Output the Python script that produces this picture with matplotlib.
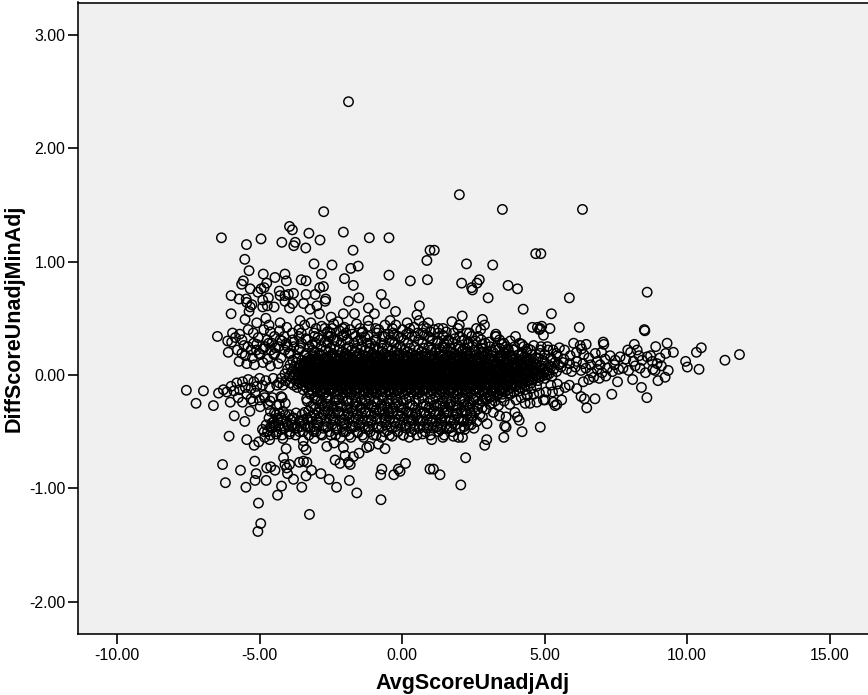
import matplotlib
matplotlib.use("Agg")
import matplotlib.pyplot as plt

plt.rcParams['font.family'] = ['Liberation Sans', 'DejaVu Sans']

x_ticks = [-10, -5, 0, 5, 10, 15]
y_ticks = [-2, -1, 0, 1, 2, 3]
x_name = "AvgScoreUnadjAdj"
y_name = "DiffScoreUnadjMinAdj"

# values, region by region
upper_left = [(-1.88,2.41),(-2.75,1.44),(-3.95,1.31),(-3.85,1.28),(-3.27,1.25),(-2.06,1.26),(-6.34,1.21),(-4.95,1.20),
(-5.46,1.15),(-4.22,1.17),(-3.75,1.17),(-3.80,1.14),(-2.88,1.19),(-3.38,1.12),(-1.15,1.21),(-0.46,1.21),(-1.72,1.10),
(-5.52,1.02),(-3.09,0.98),(-2.46,0.97),(-1.54,0.96),(-1.80,0.94),(0.87,1.01),(0.98,1.10),(-5.37,0.92),(-4.87,0.89),
(-2.83,0.89),(-4.11,0.89),(-4.46,0.86),(-5.57,0.83),(-5.63,0.80),(-4.06,0.83),(-3.54,0.84),(-3.37,0.83),(-2.02,0.85),
(-0.46,0.88),(0.29,0.83),(0.89,0.84),(-4.75,0.81),(-4.84,0.77),(-5.33,0.76),(-4.95,0.76),(-5.06,0.73),(-2.76,0.78),
(-2.89,0.77),(-1.71,0.79),(-4.31,0.74),(-4.28,0.70),(-6.00,0.70),(-5.72,0.67),(-3.99,0.71),(-3.81,0.72),(-4.11,0.70),
(-3.37,0.71),(-3.05,0.71),(-1.52,0.68),(-0.73,0.71),(-1.88,0.65),(-0.60,0.63),(-2.68,0.67),(-2.70,0.65),(-5.47,0.67),
(-5.45,0.64),(-4.69,0.68),(-4.89,0.66),(-4.11,0.65),(-3.84,0.63),(-3.46,0.63),(-5.27,0.62),(-5.33,0.60),(-4.73,0.61),
(-4.49,0.60),(-4.89,0.60),(-3.95,0.59),(-2.99,0.61),(-3.23,0.58),(-1.18,0.59),(0.61,0.61),(-0.23,0.56),(-0.97,0.54),
(0.52,0.53),(-6.00,0.54),(-5.37,0.56),(-2.90,0.54),(-1.67,0.54),(-2.06,0.54),(-5.51,0.49),(-4.78,0.50),(-3.58,0.48),
(-5.10,0.46),(-4.28,0.46),(-4.67,0.44),(-1.19,0.48),(-1.18,0.43),(-2.49,0.51),(-2.25,0.47),(-2.40,0.45),(-6.48,0.34),
(-5.95,0.37),(-5.85,0.33),(-5.70,0.36),(-5.62,0.31),(-6.12,0.30),(-5.98,0.29),(-5.40,0.40),(-5.22,0.37),(-5.05,0.33),
(-4.85,0.40),(-4.62,0.38),(-4.48,0.34),(-4.30,0.39),(-4.05,0.42),(-3.85,0.37),(-3.62,0.40),(-3.42,0.44),(-3.20,0.46),
(-3.02,0.41),(-2.82,0.43),(-2.62,0.38),(-2.45,0.41),(-2.20,0.39),(-2.02,0.42),(-1.82,0.40),(-1.60,0.45),(-1.38,0.38),
(-1.75,0.36),(-0.82,0.40),(-0.60,0.44),(-0.42,0.48),(-0.22,0.44),(0.02,0.40),(0.18,0.46),(0.42,0.42),(0.60,0.48),
(0.75,0.43),(0.92,0.46),(1.00,0.38),(1.12,0.40),(-5.78,0.22),(-5.55,0.26),(-5.30,0.22),(-5.10,0.27),(-4.88,0.23),
(-4.68,0.28),(-4.45,0.24),(-4.22,0.30),(-4.02,0.25),(-3.80,0.29),(-3.58,0.24),(-3.38,0.32),(-3.15,0.27),(-2.95,0.33),
(-2.72,0.29),(-2.50,0.34),(-2.28,0.30),(-2.05,0.35),(-5.50,0.17),(-5.25,0.15),(-4.98,0.18),(-4.72,0.14),(-4.50,0.18),
(-4.25,0.15),(-3.98,0.19),(-5.72,0.12),(-5.45,0.10),(-5.18,0.09),(-4.88,0.11),(-4.62,0.08),(-4.35,0.10),(-6.10,0.20),
(-0.95,0.31),(-1.30,0.33),(-0.70,0.34),(-0.48,0.36),(-0.28,0.35),(-0.05,0.33),(0.15,0.36),(0.35,0.34),(0.55,0.37),
(0.78,0.35),(0.98,0.32),(-1.55,0.30),(-1.10,0.28),(-0.35,0.29)]

upper_right = [(2.01,1.59),(3.52,1.46),(6.33,1.46),(4.69,1.07),(4.87,1.07),(1.13,1.10),(2.26,0.98),(3.18,0.97),(2.09,0.81),
(2.71,0.84),(2.63,0.81),(2.44,0.77),(2.47,0.75),(3.72,0.79),(4.05,0.76),(8.60,0.73),(3.02,0.68),(5.87,0.68),(4.25,0.58),
(5.24,0.54),(2.11,0.52),(1.75,0.47),(2.01,0.44),(2.82,0.49),(2.89,0.44),(2.76,0.40),(3.29,0.36),(3.27,0.34),(4.57,0.42),
(4.75,0.42),(4.90,0.43),(4.82,0.40),(4.85,0.41),(5.19,0.41),(6.22,0.42),(8.52,0.39),(3.98,0.34),(3.80,0.30),(4.96,0.35),
(1.43,0.35),(2.27,0.37),(2.44,0.34),(1.55,0.38),(1.28,0.41),(2.10,0.30),(1.85,0.32),(1.65,0.30),(1.48,0.28),(1.25,0.30),
(2.35,0.28),(2.58,0.30),(2.82,0.27),(3.05,0.29),(3.28,0.24),(3.50,0.27),(3.72,0.23),(3.95,0.25),(4.20,0.27),(4.42,0.23),
(4.62,0.26),(4.85,0.22),(5.10,0.25),(5.30,0.22),(5.52,0.24),(5.70,0.22),(1.20,0.22),(1.50,0.24),(1.75,0.20),(2.00,0.23),
(2.25,0.19),(2.55,0.22),(2.78,0.20),(3.00,0.18),(3.20,0.20),(3.45,0.17),(3.65,0.19),(3.85,0.16),(4.10,0.18),(4.30,0.16),
(4.55,0.18),(4.78,0.15),(5.00,0.18),(5.22,0.15),(5.45,0.17),(5.68,0.14),(5.90,0.17),(6.02,0.28),(6.25,0.26),(6.46,0.27),
(6.30,0.23),(6.12,0.20),(6.38,0.18),(6.55,0.15),(6.78,0.19),(7.06,0.29),(7.00,0.20),(7.08,0.27),(6.85,0.12),(7.12,0.14),
(7.30,0.17),(7.48,0.13),(7.65,0.16),(7.85,0.14),(8.15,0.27),(8.02,0.20),(7.92,0.22),(8.25,0.22),(8.32,0.17),(8.50,0.40),
(8.12,0.12),(8.42,0.13),(8.60,0.16),(8.78,0.12),(8.90,0.25),(8.72,0.17),(9.30,0.28),(9.52,0.20),(9.25,0.19),(9.05,0.15),
(8.95,0.10),(9.10,0.08),(9.95,0.12),(10.01,0.07),(10.42,0.05),(10.50,0.24),(10.33,0.20),(11.33,0.13),(11.84,0.18),(9.34,0.04),
(9.23,-0.02),(8.98,-0.05),(8.54,0.02),(8.09,-0.04),(8.80,0.05),(8.88,0.04),(8.35,0.06),(8.18,0.08),(7.95,0.04),(7.75,0.06),
(7.56,-0.06),(7.60,0.05),(7.38,0.03),(7.20,0.06),(7.02,0.02),(6.85,0.05),(6.65,0.02),(6.45,0.06),(6.28,0.04),(6.08,0.07),
(7.45,0.09),(7.15,-0.01),(6.92,-0.03),(6.72,-0.02),(6.55,-0.04),(6.95,0.09),(6.62,0.09),(6.35,0.10),(6.12,0.12),(5.88,0.10),
(5.95,0.03),(5.78,0.05)]

lower_left = [(-7.57,-0.135),(-6.97,-0.14),(-7.23,-0.25),(-6.62,-0.27),(-6.44,-0.16),(-6.27,-0.13),(-6.15,-0.15),(-6.03,-0.24),
(-5.89,-0.36),(-5.52,-0.41),(-5.34,-0.32),(-4.98,-0.28),(-6.07,-0.54),(-5.45,-0.57),(-5.19,-0.62),(-5.03,-0.59),(-5.17,-0.76),
(-6.30,-0.79),(-5.67,-0.84),(-5.12,-0.87),(-5.16,-0.93),(-4.77,-0.93),(-6.20,-0.95),(-5.48,-0.99),(-4.23,-0.98),(-4.37,-1.06),
(-3.52,-0.99),(-5.04,-1.13),(-3.25,-1.23),(-4.96,-1.31),(-5.06,-1.38),(-4.75,-0.82),(-4.61,-0.81),(-4.46,-0.84),(-4.07,-0.65),
(-4.16,-0.73),(-4.11,-0.79),(-4.05,-0.82),(-3.95,-0.79),(-3.60,-0.77),(-3.46,-0.76),(-3.34,-0.77),(-4.02,-0.87),(-3.81,-0.92),
(-3.37,-0.89),(-3.18,-0.84),(-2.85,-0.87),(-2.56,-0.92),(-2.30,-0.99),(-1.85,-0.93),(-1.59,-1.04),(-0.74,-1.10),(-0.75,-0.88),
(-0.71,-0.83),(-0.29,-0.88),(-0.13,-0.83),(-0.07,-0.85),(0.12,-0.78),(0.98,-0.83),(-3.47,-0.58),(-3.46,-0.63),(-3.37,-0.66),
(-3.08,-0.56),(-2.64,-0.63),(-2.39,-0.60),(-2.06,-0.64),(-2.35,-0.75),(-2.18,-0.78),(-2.00,-0.71),(-1.88,-0.77),(-1.82,-0.79),
(-1.71,-0.72),(-1.51,-0.69),(-1.24,-0.64),(-1.15,-0.63),(-0.83,-0.61),(-0.60,-0.65),(-4.72,-0.50),(-4.62,-0.46),(-4.55,-0.42),
(-4.42,-0.52),(-4.35,-0.38),(-4.25,-0.48),(-4.18,-0.56),(-4.10,-0.35),(-4.02,-0.44),(-3.95,-0.52),(-3.85,-0.38),(-3.78,-0.47),
(-3.60,-0.50),(-3.52,-0.41),(-3.42,-0.33),(-3.30,-0.46),(-3.20,-0.37),(-3.10,-0.50),(-4.90,-0.48),(-4.82,-0.55),
(-4.65,-0.57),(-4.50,-0.44),(-4.30,-0.34),(-3.05,-0.30),(-2.95,-0.42),(-2.85,-0.52),(-2.78,-0.35),
(-2.68,-0.46),(-2.60,-0.31),(-2.50,-0.53),(-2.42,-0.40),(-2.32,-0.48),(-2.25,-0.33),(-2.15,-0.55),(-2.05,-0.43),(-1.98,-0.50),
(-1.88,-0.35),(-1.80,-0.55),(-1.72,-0.45),(-1.62,-0.38),(-1.55,-0.51),(-1.45,-0.42),(-1.35,-0.55),(-1.28,-0.33),(-1.18,-0.48),
(-1.08,-0.40),(-1.00,-0.53),(-0.92,-0.31),(-0.82,-0.46),(-0.72,-0.55),(-0.62,-0.38),(-0.52,-0.49),(-0.45,-0.33),(-0.35,-0.54),
(-0.25,-0.42),(-0.15,-0.50),(-0.05,-0.36),(0.05,-0.53),(0.15,-0.44),(0.25,-0.55),(-5.75,-0.20),(-5.60,-0.24),(-5.45,-0.17),
(-5.30,-0.21),(-5.15,-0.16),(-5.00,-0.22),(-4.85,-0.18),(-4.70,-0.26),(-4.55,-0.20),(-4.40,-0.27),(-4.25,-0.19),(-4.10,-0.25),
(-3.35,-0.21),(-3.20,-0.28),(-3.00,-0.22),(-2.82,-0.26),(-2.65,-0.21),
(-2.48,-0.27),(-2.30,-0.22),(-2.12,-0.28),(-1.95,-0.23),(-1.78,-0.29),(-1.60,-0.24),(-1.42,-0.29),(-1.25,-0.23),(-1.05,-0.28),
(-0.88,-0.24),(-0.70,-0.30),(-0.52,-0.25),(-0.32,-0.29),(-0.15,-0.24),(0.05,-0.29),(0.22,-0.33),(0.35,-0.27),(0.32,-0.40),
(0.42,-0.48),(0.50,-0.35),(-6.00,-0.10),(-5.90,-0.14),(-5.80,-0.07),(-5.70,-0.13),(-5.60,-0.06),(-5.50,-0.11),(-5.40,-0.04),
(-5.30,-0.12),(-5.20,-0.06),(-5.10,-0.10),(-5.00,-0.03),(-4.90,-0.09),(-4.78,-0.05),(-4.65,-0.11),(-4.52,-0.03),(-4.40,-0.09)]

lower_right = [(7.36,-0.17),(8.59,-0.20),(8.40,-0.11),(6.48,-0.29),(6.77,-0.21),(6.40,-0.21),(6.28,-0.19),(6.13,-0.12),(5.43,-0.26),
(5.60,-0.22),(5.31,-0.24),(5.02,-0.22),(4.73,-0.24),(4.49,-0.25),(4.32,-0.25),(5.37,-0.27),(4.96,-0.22),(4.85,-0.46),(4.21,-0.50),
(3.65,-0.37),(3.96,-0.33),(4.05,-0.37),(4.11,-0.40),(3.65,-0.46),(3.60,-0.45),(3.57,-0.55),(2.97,-0.57),(2.90,-0.62),(2.23,-0.73),
(1.10,-0.83),(1.33,-0.88),(2.06,-0.97),(1.43,-0.55),(1.04,-0.57),(1.80,-0.54),(1.98,-0.55),(2.12,-0.55),(1.65,-0.47),(2.05,-0.47),
(2.20,-0.48),(1.22,-0.46),(1.35,-0.48),(2.42,-0.44),(2.98,-0.43),(2.82,-0.37),(3.20,-0.33),(3.42,-0.36),(0.72,-0.52),(0.88,-0.47),
(1.05,-0.42),(1.18,-0.35),(1.38,-0.38),(1.55,-0.33),(1.72,-0.40),(1.90,-0.34),(2.08,-0.39),(2.25,-0.32),(2.45,-0.36),(2.65,-0.30),
(2.95,-0.30),(3.15,-0.25),(3.38,-0.27),(3.58,-0.23),(3.78,-0.26),(4.00,-0.22),(4.18,-0.20),(4.40,-0.18),(4.62,-0.17),(4.82,-0.16),
(5.05,-0.15),(5.28,-0.15),(5.50,-0.14),(5.72,-0.11),(5.87,-0.09),(6.36,-0.06),(5.45,-0.08),(5.22,-0.09),(0.62,-0.40),(0.78,-0.33),
(0.95,-0.29),(1.12,-0.27),(1.32,-0.25),(1.52,-0.28),(1.72,-0.24),(1.92,-0.27),(2.12,-0.23),(2.32,-0.26),(2.52,-0.22),(2.72,-0.25),
(2.92,-0.20),(3.12,-0.19),(3.32,-0.18),(3.52,-0.17),(3.72,-0.16),(3.92,-0.15),(4.12,-0.14),(4.32,-0.13),(4.52,-0.12),(4.72,-0.10)]

# the solid middle cannot be read point by point, so it is estimated as rows: (y, x values)
core_rows = [
(0.17,[-3.42,-3.11,-2.86,-2.47,-2.19,-1.93,-1.58,-1.31,-1.07,-0.74,-0.43,-0.18,0.16,0.47,0.71,1.04,1.33,1.66,1.91,2.27,2.58,2.83,3.16,3.52,3.81,4.17]),
(0.15,[-3.65,-3.28,-2.97,-2.71,-2.33,-2.04,-1.76,-1.44,-1.17,-0.86,-0.57,-0.26,0.03,0.34,0.62,0.93,1.21,1.52,1.84,2.12,2.41,2.74,3.03,3.37,3.68,3.99,4.36,4.71]),
(0.13,[-3.84,-3.51,-3.19,-2.92,-2.56,-2.27,-1.98,-1.69,-1.36,-1.09,-0.78,-0.49,-0.14,0.11,0.42,0.77,1.06,1.39,1.67,1.97,2.31,2.62,2.91,3.24,3.57,3.86,4.21,4.52,4.93,5.27]),
(0.11,[-3.71,-3.38,-3.04,-2.77,-2.41,-2.13,-1.81,-1.52,-1.23,-0.94,-0.61,-0.33,-0.02,0.27,0.56,0.88,1.17,1.46,1.76,2.08,2.36,2.69,2.98,3.31,3.63,3.92,4.27,4.61,4.98,5.36,5.64]),
(0.09,[-3.93,-3.57,-3.26,-2.94,-2.62,-2.31,-2.02,-1.73,-1.41,-1.12,-0.83,-0.52,-0.21,0.08,0.39,0.66,0.99,1.28,1.59,1.89,2.18,2.49,2.81,3.11,3.44,3.74,4.07,4.39,4.72,5.13,5.49]),
(0.07,[-3.78,-3.46,-3.13,-2.83,-2.52,-2.23,-1.91,-1.61,-1.33,-1.01,-0.72,-0.41,-0.11,0.18,0.49,0.79,1.09,1.37,1.71,1.99,2.29,2.58,2.89,3.21,3.53,3.83,4.14,4.46,4.83,5.22,5.58]),
(0.05,[-4.02,-3.66,-3.35,-3.02,-2.72,-2.42,-2.11,-1.82,-1.49,-1.21,-0.91,-0.59,-0.31,0.01,0.29,0.59,0.91,1.19,1.49,1.81,2.09,2.39,2.71,3.02,3.33,3.62,3.96,4.26,4.58,4.96,5.32]),
(0.03,[-3.87,-3.53,-3.22,-2.91,-2.61,-2.32,-1.99,-1.71,-1.39,-1.11,-0.81,-0.49,-0.22,0.11,0.38,0.69,1.01,1.29,1.61,1.88,2.21,2.49,2.79,3.12,3.41,3.73,4.04,4.36,4.68,5.07,5.42]),
(0.01,[-4.11,-3.74,-3.42,-3.11,-2.81,-2.51,-2.21,-1.89,-1.62,-1.29,-1.02,-0.69,-0.41,-0.12,0.19,0.48,0.81,1.08,1.41,1.69,1.99,2.31,2.59,2.92,3.21,3.52,3.84,4.16,4.47,4.84,5.16]),
(-0.01,[-3.96,-3.62,-3.31,-3.01,-2.69,-2.41,-2.09,-1.79,-1.51,-1.19,-0.89,-0.61,-0.29,-0.01,0.31,0.58,0.89,1.21,1.48,1.79,2.11,2.41,2.68,3.01,3.32,3.63,3.93,4.24,4.57,4.91,5.26]),
(-0.03,[-4.24,-3.84,-3.51,-3.19,-2.89,-2.59,-2.29,-1.99,-1.68,-1.39,-1.08,-0.79,-0.49,-0.19,0.09,0.41,0.68,0.99,1.31,1.59,1.88,2.19,2.51,2.79,3.11,3.42,3.71,4.03,4.34,4.66,5.02]),
(-0.05,[-4.08,-3.71,-3.38,-3.09,-2.78,-2.49,-2.18,-1.88,-1.59,-1.28,-0.98,-0.68,-0.39,-0.08,0.21,0.51,0.79,1.11,1.39,1.71,1.98,2.29,2.61,2.88,3.21,3.49,3.81,4.12,4.42,4.77]),
(-0.07,[-4.31,-3.93,-3.59,-3.28,-2.97,-2.68,-2.38,-2.08,-1.78,-1.47,-1.18,-0.88,-0.58,-0.28,0.01,0.31,0.61,0.89,1.21,1.49,1.81,2.09,2.39,2.69,2.99,3.29,3.61,3.91,4.23,4.54]),
(-0.09,[-4.18,-3.81,-3.47,-3.16,-2.87,-2.57,-2.27,-1.97,-1.67,-1.37,-1.07,-0.77,-0.47,-0.17,0.13,0.41,0.72,1.01,1.31,1.61,1.91,2.19,2.51,2.79,3.09,3.41,3.71,4.01,4.31]),
(-0.11,[-3.68,-3.36,-3.06,-2.76,-2.46,-2.16,-1.86,-1.56,-1.26,-0.96,-0.66,-0.36,-0.06,0.23,0.53,0.82,1.12,1.42,1.72,2.01,2.31,2.62,2.91,3.22,3.52,3.82,4.12]),
(-0.13,[-3.47,-3.17,-2.87,-2.57,-2.27,-1.97,-1.67,-1.37,-1.07,-0.77,-0.47,-0.17,0.12,0.42,0.72,1.02,1.32,1.62,1.92,2.22,2.52,2.82,3.12,3.42,3.72]),
(-0.15,[-3.27,-2.98,-2.68,-2.38,-2.08,-1.78,-1.48,-1.18,-0.88,-0.58,-0.28,0.02,0.31,0.61,0.91,1.21,1.51,1.81,2.11,2.41,2.71,3.01,3.31,3.61]),
]

# second pass over the same area, at the rows in between
core_rows_b = [
(0.16,[-3.06,-2.64,-2.52,-2.08,-1.83,-1.62,-1.24,-0.97,-0.91,-0.51,-0.39,0.07,0.21,0.58,0.84,0.98,1.42,1.58,2.03,2.22,2.69,2.96,3.42]),
(0.14,[-3.21,-3.03,-2.58,-2.38,-2.16,-1.72,-1.49,-1.02,-0.82,-0.68,-0.23,-0.07,0.38,0.51,0.97,1.13,1.47,1.78,2.17,2.33,2.79,3.09,3.46,3.92]),
(0.12,[-3.33,-2.88,-2.69,-2.22,-2.07,-1.64,-1.28,-1.16,-0.67,-0.44,-0.29,0.19,0.33,0.69,0.84,1.26,1.55,1.83,2.23,2.47,2.77,3.14,3.44,3.77,4.08,4.44]),
(0.10,[-3.46,-3.16,-2.68,-2.49,-2.09,-1.88,-1.47,-1.29,-0.89,-0.69,-0.26,-0.09,0.32,0.43,0.91,1.12,1.53,1.69,2.14,2.27,2.73,2.91,3.37,3.55,4.01,4.33,4.67]),
(0.08,[-3.31,-3.08,-2.71,-2.44,-2.16,-1.79,-1.56,-1.17,-0.96,-0.63,-0.34,-0.03,0.24,0.53,0.72,1.16,1.32,1.77,1.93,2.36,2.63,2.95,3.28,3.48,3.91,4.21,4.54,4.89]),
(0.06,[-3.58,-3.24,-2.89,-2.64,-2.29,-1.97,-1.68,-1.39,-1.06,-0.77,-0.47,-0.17,0.13,0.36,0.73,0.97,1.27,1.57,1.86,2.16,2.46,2.77,3.07,3.39,3.68,4.01,4.31,4.64]),
(0.04,[-3.42,-3.13,-2.79,-2.54,-2.17,-1.87,-1.57,-1.27,-0.99,-0.66,-0.37,-0.08,0.23,0.51,0.83,1.12,1.38,1.73,2.03,2.33,2.63,2.93,3.23,3.53,3.79,4.11,4.42,4.73,5.12]),
(0.02,[-3.63,-3.28,-2.97,-2.66,-2.37,-2.06,-1.76,-1.46,-1.17,-0.86,-0.56,-0.26,0.03,0.33,0.63,0.94,1.23,1.53,1.83,2.13,2.43,2.73,3.03,3.33,3.67,3.98,4.28,4.61,4.98]),
(0.00,[-3.81,-3.47,-3.16,-2.86,-2.56,-2.26,-1.94,-1.66,-1.34,-1.04,-0.76,-0.44,-0.16,0.14,0.43,0.74,1.03,1.34,1.63,1.93,2.24,2.54,2.84,3.14,3.46,3.77,4.07,4.39,4.72,5.08]),
(-0.02,[-3.41,-3.09,-2.79,-2.47,-2.17,-1.86,-1.57,-1.26,-0.96,-0.67,-0.36,-0.07,0.23,0.52,0.83,1.13,1.42,1.73,2.04,2.33,2.63,2.94,3.24,3.54,3.86,4.17,4.49,4.82]),
(-0.04,[-3.62,-3.27,-2.97,-2.67,-2.37,-2.07,-1.77,-1.47,-1.16,-0.86,-0.57,-0.27,0.03,0.33,0.62,0.93,1.23,1.52,1.83,2.13,2.42,2.73,3.04,3.33,3.64,3.96,4.27,4.58]),
(-0.06,[-3.44,-3.12,-2.83,-2.53,-2.24,-1.93,-1.63,-1.33,-1.03,-0.73,-0.43,-0.13,0.16,0.46,0.76,1.06,1.36,1.66,1.96,2.26,2.56,2.84,3.17,3.47,3.77,4.08,4.38]),
(-0.08,[-3.66,-3.31,-3.02,-2.72,-2.42,-2.12,-1.82,-1.52,-1.22,-0.92,-0.62,-0.32,-0.02,0.27,0.57,0.87,1.17,1.47,1.77,2.07,2.37,2.67,2.96,3.27,3.58,3.87,4.19]),
(-0.10,[-3.23,-2.92,-2.62,-2.32,-2.02,-1.72,-1.42,-1.12,-0.82,-0.52,-0.22,0.08,0.37,0.67,0.97,1.27,1.57,1.87,2.16,2.46,2.77,3.06,3.37,3.67,3.97]),
(-0.12,[-3.02,-2.72,-2.42,-2.12,-1.82,-1.52,-1.22,-0.92,-0.62,-0.32,-0.02,0.28,0.57,0.87,1.17,1.47,1.77,2.07,2.37,2.67,2.97,3.27,3.57]),
(-0.14,[-2.83,-2.53,-2.23,-1.93,-1.63,-1.33,-1.03,-0.73,-0.43,-0.13,0.17,0.46,0.76,1.06,1.36,1.66,1.96,2.26,2.56,2.86,3.16,3.46]),
]

band_rows = [
(0.41,[-2.71,-2.08,-1.47,-0.93,-0.34,0.27,0.86,1.44,1.96,2.61]),
(0.37,[-3.54,-3.09,-2.53,-1.97,-1.42,-0.88,-0.31,0.23,0.74,1.27,1.81,2.36]),
(0.34,[-4.14,-3.62,-3.07,-2.59,-2.11,-1.64,-1.19,-0.63,-0.12,0.44,0.93,1.46,2.02,2.67,3.31]),
(0.31,[-4.73,-4.28,-3.84,-3.31,-2.86,-2.38,-1.92,-1.43,-0.91,-0.44,0.06,0.58,1.07,1.62,2.19,2.78,3.42]),
(0.28,[-5.21,-4.57,-4.06,-3.53,-3.04,-2.61,-2.14,-1.69,-1.21,-0.73,-0.27,0.21,0.72,1.24,1.77,2.31,2.92,3.57,4.13]),
(0.25,[-5.41,-4.81,-4.33,-3.79,-3.26,-2.83,-2.37,-1.88,-1.41,-0.96,-0.52,-0.06,0.43,0.94,1.43,1.97,2.47,3.08,3.66,4.27,4.88]),
(0.22,[-5.11,-4.61,-4.12,-3.62,-3.14,-2.68,-2.21,-1.77,-1.29,-0.84,-0.36,0.09,0.57,1.03,1.59,2.14,2.69,3.28,3.91,4.51,5.13]),
(0.19,[-5.62,-5.03,-4.47,-3.92,-3.37,-2.91,-2.44,-1.98,-1.52,-1.04,-0.62,-0.13,0.33,0.82,1.29,1.83,2.38,2.97,3.58,4.22,4.84,5.41]),
(0.235,[-2.52,-1.96,-1.58,-1.13,-0.69,-0.18,0.28,0.78,1.31,1.71,2.21,2.83,3.42]),
(0.205,[-3.06,-2.58,-2.09,-1.64,-1.17,-0.71,-0.25,0.18,0.68,1.16,1.67,2.09,2.58,3.13,3.74,4.36]),
(-0.17,[-3.22,-2.75,-2.27,-1.82,-1.34,-0.91,-0.42,0.07,0.54,1.02,1.49,1.96,2.43,2.89,3.36,3.79,4.37]),
(-0.20,[-4.82,-4.21,-3.06,-2.59,-2.09,-1.63,-1.16,-0.69,-0.22,0.24,0.71,1.18,1.64,2.11,2.58,3.07,3.49]),
(-0.23,[-5.23,-4.63,-3.33,-2.84,-2.37,-1.89,-1.41,-0.96,-0.47,0.03,0.48,0.97,1.43,1.88,2.36,2.82,3.26]),
(-0.26,[-4.31,-3.11,-2.62,-2.14,-1.67,-1.19,-0.72,-0.24,0.27,0.73,1.21,1.69,2.17,2.64,3.08]),
(-0.29,[-2.89,-2.41,-1.93,-1.46,-0.98,-0.51,-0.03,0.46,0.94,1.42,1.91,2.37,2.81]),
(-0.32,[-4.62,-4.18,-3.28,-2.71,-2.23,-1.74,-1.27,-0.79,-0.33,0.16,0.64,1.12,1.61,2.09,2.56]),
(-0.35,[-4.42,-3.96,-3.51,-3.07,-2.52,-2.04,-1.57,-1.08,-0.61,-0.14,0.36,0.83,1.31,1.79,2.27,2.73]),
(-0.38,[-4.67,-4.24,-3.79,-3.33,-2.86,-2.38,-1.86,-1.38,-0.89,-0.43,0.07,0.54,1.02,1.51,1.98,2.44]),
(-0.41,[-4.49,-4.06,-3.61,-3.17,-2.66,-2.17,-1.69,-1.21,-0.72,-0.26,0.24,0.73,1.19,1.68,2.16,2.62]),
(-0.44,[-4.77,-4.33,-3.88,-3.42,-2.97,-2.47,-1.98,-1.51,-1.03,-0.56,-0.07,0.43,0.91,1.38,1.87,2.34]),
(-0.47,[-4.58,-4.13,-3.68,-3.23,-2.76,-2.27,-1.78,-1.31,-0.84,-0.36,0.14,0.61,1.09,1.57,2.03,2.52]),
(-0.50,[-4.84,-4.39,-3.93,-3.48,-3.02,-2.54,-2.07,-1.58,-1.12,-0.63,-0.16,0.32,0.81,1.27,1.76]),
(-0.53,[-4.63,-4.21,-3.74,-3.27,-2.81,-2.33,-1.86,-1.39,-0.91,-0.44,0.03,0.52,0.99,1.48]),
(-0.215,[-2.96,-2.22,-1.77,-1.31,-0.83,-0.34,0.14,0.59,1.08,1.56,2.02,2.49,2.97]),
(-0.275,[-2.71,-2.27,-1.58,-1.07,-0.62,-0.11,0.36,0.84,1.33,1.79,2.26]),
(-0.335,[-4.48,-3.72,-2.92,-2.41,-1.89,-1.43,-0.97,-0.49,0.01,0.48,0.97,1.47,1.95,2.41]),
(-0.395,[-4.36,-3.91,-3.46,-2.98,-2.51,-2.03,-1.54,-1.09,-0.58,-0.12,0.37,0.88,1.34,1.83,2.31]),
(-0.455,[-4.44,-3.99,-3.54,-3.09,-2.61,-2.11,-1.64,-1.18,-0.71,-0.22,0.28,0.76,1.23,1.72,2.18]),
]

xs = []
ys = []
for part in [upper_left, upper_right, lower_left, lower_right]:
    for p in part:
        xs.append(p[0])
        ys.append(p[1])
for rows in [core_rows, core_rows_b, band_rows]:
    for y, row in rows:
        for x in row:
            xs.append(x)
            ys.append(y)

fig = plt.figure(figsize=(8.68, 6.95), dpi=100)
ax = fig.add_axes([77.5/868, 1-633.5/695, (868-77.5)/868, (633.5-2.5)/695])
ax.set_facecolor("#f0f0f0")
ax.scatter(xs, ys, s=46, facecolors="none", edgecolors="black", linewidths=1.05)

ax.set_xlim(-11.39, 16.35)
ax.set_ylim(-2.28, 3.285)
ax.set_xticks(x_ticks)
ax.set_xticklabels(["%.2f" % v for v in x_ticks])
ax.set_yticks(y_ticks)
ax.set_yticklabels(["%.2f" % v for v in y_ticks])
ax.tick_params(axis="x", length=7.2, width=1.2, labelsize=11.4, pad=3.5)
ax.tick_params(axis="y", length=7.2, width=1.2, labelsize=11.4, pad=1.5)
ax.spines["right"].set_visible(False)
for s in ["left", "bottom", "top"]:
    ax.spines[s].set_linewidth(1.15)

fig.text(473/868, 1-683/695, x_name, ha="center", va="center", fontsize=15.5, fontweight="bold")
fig.text(14/868, 1-318/695, y_name, ha="center", va="center", rotation=90, fontsize=15.5, fontweight="bold")

fig.savefig("out.png", dpi=100)
